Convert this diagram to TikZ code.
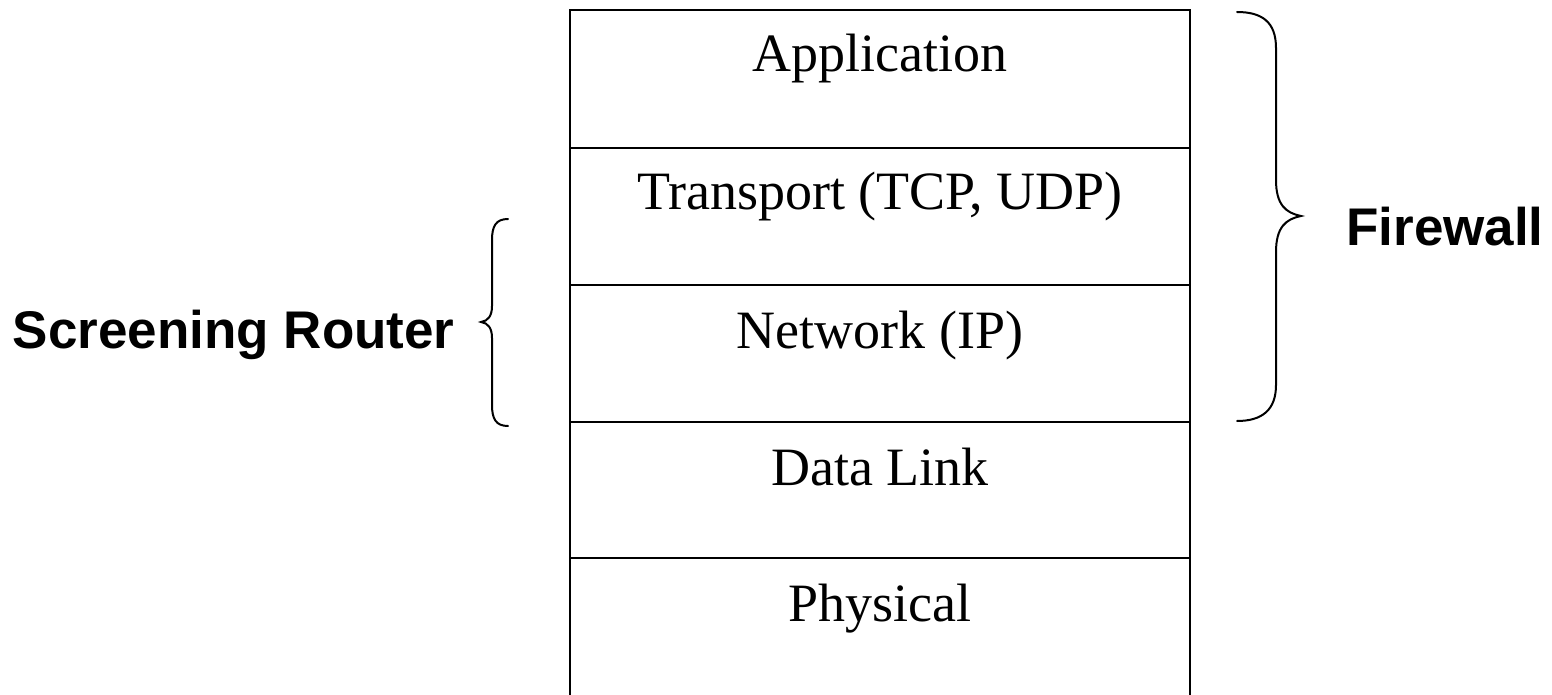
\documentclass[tikz,border=0pt]{standalone}
\usepackage{fontspec}
\setmainfont{Liberation Serif}
\newfontfamily\labelfont{Liberation Sans}
\begin{document}
\begin{tikzpicture}[x=0.5pt,y=-0.5pt,
  layertext/.style={anchor=base,inner sep=0pt,font=\fontsize{27}{30}\selectfont},
  sidetext/.style={anchor=base,inner sep=0pt,font=\labelfont\bfseries\fontsize{26.5}{29}\selectfont},
  rule/.style={line width=1pt},
  bracestyle/.style={line width=1pt,line cap=round}]
\useasboundingbox (0,0) rectangle (1552,695);

% protocol stack frame (open at the bottom)
\coordinate (tl) at (570,10);
\coordinate (tr) at (1190,10);
\coordinate (bl) at (570,695);
\coordinate (br) at (1190,695);
\draw[rule] (bl) -- (tl) -- (tr) -- (br);
\foreach \y in {148,285,422,558}
  \draw[rule] (570,\y) -- (1190,\y);

% layer names
\node[layertext] (app) at (880,72) {Application};
\node[layertext] (trans) at (880,210) {Transport (TCP, UDP)};
\node[layertext] (net) at (880,348) {Network (IP)};
\node[layertext] (dl) at (880,485) {Data Link};
\node[layertext] (phy) at (880,621) {Physical};

% left brace: network + transport layers
\draw[bracestyle] (508,219) .. controls (496,219) and (492,226) .. (492,240)
  -- (492,306) .. controls (492,316) and (488,321) .. (481,322)
  .. controls (488,323) and (492,328) .. (492,338)
  -- (492,405) .. controls (492,419) and (496,426) .. (508,426);
\node[sidetext,anchor=base east] (router) at (455,348) {Screening Router};

% right brace: network through application layers
\draw[bracestyle] (1237,12) .. controls (1262,12) and (1276,22) .. (1276,48)
  -- (1276,180) .. controls (1276,205) and (1286,213) .. (1301,216)
  .. controls (1286,219) and (1276,227) .. (1276,252)
  -- (1276,385) .. controls (1276,410) and (1262,421) .. (1237,421);
\node[sidetext,anchor=base east] (fw) at (1544,246) {Firewall};
\end{tikzpicture}
\end{document}
